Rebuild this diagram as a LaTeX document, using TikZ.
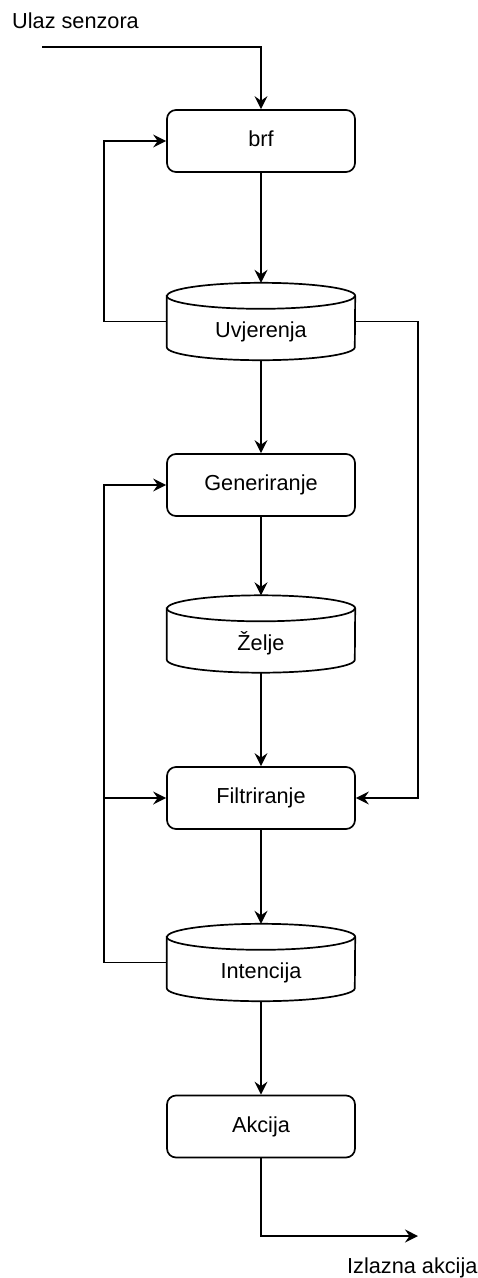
\documentclass[tikz,border=0pt]{standalone}
\usepackage{fontspec}
\setmainfont{Liberation Sans}
\usetikzlibrary{arrows.meta,calc}
\tikzset{
 lbl/.style={font=\fontsize{21.7}{26}\selectfont, text height=15.5pt, text depth=4pt, inner sep=0pt},
 procbox/.style={draw, line width=1.7pt, rounded corners=9pt, minimum width=188pt, minimum height=62pt, inner sep=0pt, lbl},
 cylframe/.style={minimum width=188pt, minimum height=77pt, inner sep=0pt},
 cylline/.style={draw, line width=1.7pt},
 conn/.style={line width=1.7pt, -{Stealth[length=13pt,width=13pt,inset=4.5pt]}},
}
\newcommand\drawcyl[1]{%
 \draw[cylline] ($(#1.north west)+(0,-13pt)$) -- ($(#1.south west)+(0,13pt)$) arc[start angle=180,end angle=360,x radius=94pt,y radius=13pt] -- ($(#1.north east)+(0,-13pt)$) arc[start angle=0,end angle=180,x radius=94pt,y radius=13pt] -- cycle;
 \draw[cylline] ($(#1.north west)+(0,-13pt)$) arc[start angle=180,end angle=360,x radius=94pt,y radius=13pt];
}
\begin{document}
\begin{tikzpicture}[x=1pt,y=1pt]
\useasboundingbox (0,0) rectangle (478,-1278);
% nodes
\node[lbl, anchor=base west] (ulaz) at (12,-28.3) {Ulaz senzora};
\node[procbox] (brf) at (261,-141) {brf};
\node[cylframe] (uvj) at (261,-321.5) {};
\node[lbl] (uvjt) at (261,-332) {Uvjerenja};
\node[procbox] (gen) at (261,-485) {Generiranje};
\node[cylframe] (zel) at (261,-634) {};
\node[lbl] (zelt) at (261,-644.5) {Želje};
\node[procbox] (filt) at (261,-798) {Filtriranje};
\node[cylframe] (int) at (261,-962.5) {};
\node[lbl] (intt) at (261,-973) {Intencija};
\node[procbox] (akc) at (261,-1126.5) {Akcija};
\node[lbl, anchor=base west] (izl) at (347,-1273.3) {Izlazna akcija};
\drawcyl{uvj}
\drawcyl{zel}
\drawcyl{int}
% coordinates
\coordinate (in) at (42,-47);
\coordinate (out) at (418,-1236);
\coordinate (jl) at ($(int.west)+(-63pt,0)$);
% connectors
\draw[conn] (in) -| (brf.north);
\draw[conn] (brf.south) -- (uvj.north);
\draw[conn] (uvj.west) -- ++(-63pt,0) |- (brf.west);
\draw[conn] (uvj.east) -- ++(63pt,0) |- (filt.east);
\draw[conn] (uvj.south) -- (gen.north);
\draw[conn] (gen.south) -- (zel.north);
\draw[conn] (zel.south) -- (filt.north);
\draw[conn] (filt.south) -- (int.north);
\draw[conn] (int.west) -- (jl) |- (gen.west);
\draw[conn] (jl |- filt.west) -- (filt.west);
\draw[conn] (int.south) -- (akc.north);
\draw[conn] (akc.south) |- (out);
\end{tikzpicture}
\end{document}
